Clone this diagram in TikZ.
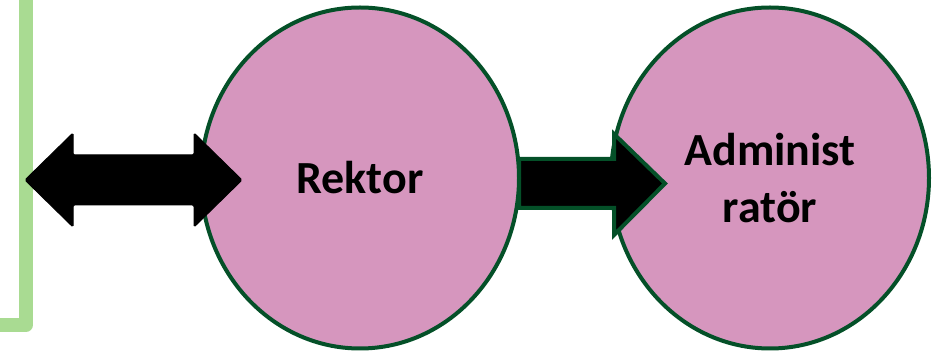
\documentclass[tikz,border=0pt]{standalone}
\usepackage{fontspec}
\setmainfont{Carlito}
\usetikzlibrary{shapes.geometric}
\definecolor{bracketgreen}{RGB}{169,219,146}
\definecolor{darkgreen}{RGB}{4,80,40}
\definecolor{mauve}{RGB}{214,150,190}
\tikzset{
  bubble/.style={ellipse, draw=darkgreen, line width=4pt, fill=mauve,
    minimum width=318pt, minimum height=341pt, inner sep=0pt,
    align=center, font=\fontsize{46}{57}\selectfont\bfseries},
  blockarrow/.style={fill=black, draw=darkgreen, line width=4pt, line join=miter},
  dblarrow/.style={fill=black, draw=black, line width=1pt, rounded corners=1.5pt},
  bracket/.style={draw=bracketgreen, line width=14pt, line join=round}
}
\begin{document}
\begin{tikzpicture}[x=1pt,y=-1pt]
\useasboundingbox (0,0) rectangle (938,352);
% green bracket
\coordinate (btop) at (26,-10);
\coordinate (bcorner) at (26,325);
\coordinate (bend) at (-10,325);
\draw[bracket] (btop) -- (bcorner) -- (bend);
% bubbles
\node[bubble] (adm) at (770,178) {Administ\\rat\"or};
% arrow Rektor -> Administratör
\draw[blockarrow] (519,159) -- (614,159) -- (614,134) -- (665,183.5)
  -- (614,235) -- (614,208) -- (519,208) -- cycle;
\node[bubble] (rek) at (360,178) {Rektor};
% double arrow
\draw[dblarrow] (25,180) -- (73,133) -- (73,155) -- (194,155) -- (194,133)
  -- (242,180) -- (194,227) -- (194,205) -- (73,205) -- (73,227) -- cycle;
\end{tikzpicture}
\end{document}
